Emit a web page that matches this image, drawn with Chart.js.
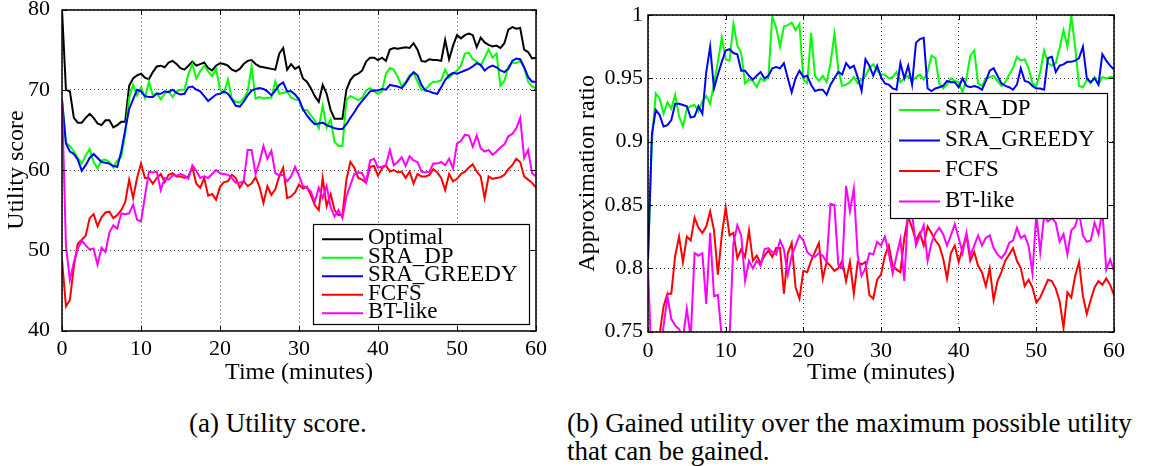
<!DOCTYPE html>
<html>
<head>
<meta charset="utf-8">
<script src="https://cdn.jsdelivr.net/npm/chart.js@4.4.1/dist/chart.umd.min.js"></script>
<style>
  body { margin: 0; background: #fff; width: 1150px; height: 466px; position: relative; overflow: hidden; }
  canvas { position: absolute; top: 0; }
  #utilChart { left: 0; }
  #ratioChart { left: 575px; }
  .caption { position: absolute; font-family: "Liberation Serif", serif; font-size: 27px; line-height: 28px; color: #000; white-space: nowrap; }
  #capA { left: 189px; top: 409px; }
  #capB { left: 567px; top: 409px; }
</style>
</head>
<body>
<canvas id="utilChart" width="560" height="395"></canvas>
<canvas id="ratioChart" width="575" height="395"></canvas>
<div class="caption" id="capA">(a) Utility score.</div>
<div class="caption" id="capB">(b) Gained utility over the maximum possible utility<br>that can be gained.</div>
<script>
// sample instants: one every 30 s over the hour
var minutes = [];
for (var i = 0; i <= 120; i++) minutes.push(i / 2);

// ---- utility score ----
var utilOptimal = [
  80, 70, 69.8, 66.5, 65.9, 65.9, 66.5, 67.0, 66.5, 65.8,
  65.6, 66.2, 66.2, 65.3, 65.6, 66.0, 66.0, 70.5, 71.4, 71.8,
  72.0, 71.5, 71.3, 72.2, 72.9, 73.0, 72.8, 73.4, 73.6, 73.2,
  72.7, 72.5, 73.0, 73.5, 73.0, 73.2, 73.4, 72.7, 72.4, 73.0,
  73.3, 73.2, 73.0, 72.5, 72.3, 72.6, 73.2, 73.6, 73.7, 73.2,
  72.9, 72.8, 72.7, 72.6, 72.5, 74.5, 75.2, 72.5, 73.2, 72.6,
  72.9, 71.4, 71.0, 70.2, 69.2, 68.5, 70.6, 69.5, 67.5, 66.4,
  66.4, 66.4, 70.0, 71.2, 71.8, 72.0, 72.4, 73.5, 74.0, 74.0,
  73.7, 74.0, 73.6, 75.0, 75.2, 75.1, 75.2, 75.3, 75.2, 75.8,
  75.0, 73.6, 73.5, 73.8, 73.7, 73.7, 73.6, 76.2, 73.8, 75.5,
  76.8, 76.4, 76.8, 77.0, 76.8, 75.3, 76.5, 75.9, 75.6, 75.4,
  75.5, 75.2, 75.8, 77.5, 77.8, 77.6, 77.7, 75.0, 74.7, 73.9,
  74.0
];
var utilSraDp = [
  68.8, 63.4, 63.0, 62.3, 61.5, 60.8, 61.8, 62.6, 61.0, 60.2,
  61.2, 61.3, 61.0, 60.3, 61.2, 61.6, 64.5, 69.0, 70.6, 69.3,
  70.3, 69.0, 71.0, 69.3, 69.6, 68.8, 69.5, 69.8, 69.1, 69.8,
  70.0, 70.0, 72.0, 73.2, 71.4, 72.3, 73.0, 72.3, 71.7, 72.6,
  70.0, 69.6, 71.3, 68.9, 68.5, 68.4, 68.9, 69.8, 72.9, 68.9,
  69.1, 68.9, 69.0, 69.0, 71.0, 69.5, 69.6, 69.8, 69.0, 68.8,
  68.7, 67.4, 67.5, 66.8, 66.2, 65.2, 68.0, 65.3, 66.3, 63.5,
  63.0, 63.0, 68.7, 69.2, 69.0, 68.7, 69.0, 69.9, 70.2, 69.8,
  69.5, 69.8, 72.0, 72.7, 72.5, 71.6, 70.4, 71.0, 71.8, 72.1,
  71.0, 70.0, 70.0, 70.6, 71.0, 71.0, 71.2, 72.5, 71.5, 72.0,
  72.4, 73.0, 74.5, 74.6, 73.8, 73.5, 73.0, 74.0, 75.0, 74.0,
  74.5, 70.5, 71.1, 72.9, 73.4, 73.3, 73.6, 72.8, 71.0, 70.4,
  70.2
];
var utilSraGreedy = [
  68.7, 63.3, 62.3, 62.0, 61.3, 59.9, 60.6, 61.5, 62.0, 61.5,
  61.0, 60.9, 60.8, 60.5, 60.4, 62.3, 65.0, 67.6, 68.8, 70.0,
  69.8, 69.2, 69.1, 69.1, 69.5, 69.5, 69.8, 69.7, 70.0, 69.6,
  69.4, 69.5, 70.3, 70.4, 70.0, 69.8, 69.2, 68.6, 69.0, 69.4,
  69.5, 69.8, 69.5, 68.8, 68.0, 67.9, 68.5, 69.3, 69.9, 70.1,
  70.2, 70.1, 69.8, 69.3, 69.9, 70.6, 70.9, 69.8, 69.8, 69.4,
  68.8, 67.6, 66.8, 66.2, 65.7, 65.8, 65.9, 65.6, 65.4, 65.2,
  65.1, 65.1, 65.7, 66.5, 67.2, 68.0, 68.6, 69.2, 69.8, 69.9,
  69.9, 70.1, 70.0, 70.6, 70.5, 70.4, 70.2, 70.8, 71.6, 72.2,
  71.8, 70.6, 69.9, 69.8, 69.6, 69.5, 70.3, 71.2, 71.8, 72.1,
  72.0, 72.2, 72.4, 72.6, 72.9, 73.3, 73.1, 72.4, 72.8, 73.0,
  72.8, 72.4, 72.2, 72.6, 73.6, 73.9, 73.8, 72.8, 71.6, 71.0,
  71.0
];
var utilFcfs = [
  48.8, 43.0, 43.8, 48.0, 50.8, 51.3, 51.8, 54.0, 54.5, 53.0,
  54.1, 54.7, 54.8, 54.0, 54.4, 55.0, 56.0, 58.8, 56.5, 59.0,
  60.8, 59.0, 59.0, 58.3, 59.0, 59.5, 58.5, 59.4, 59.6, 59.2,
  59.2, 59.0, 59.2, 60.3, 58.3, 57.8, 59.0, 56.8, 57.0, 56.3,
  57.9, 58.5, 58.6, 59.4, 59.0, 57.8, 58.6, 58.0, 58.3, 59.1,
  57.9, 55.9, 58.0, 56.9, 57.6, 59.2, 60.3, 56.5, 56.7, 57.2,
  58.2, 57.7, 57.9, 56.9, 55.6, 55.0, 59.0, 55.5, 57.0, 55.0,
  54.4, 54.4, 58.8, 61.0, 60.3, 59.0, 58.8, 58.4, 60.4, 60.5,
  59.3, 60.2, 60.6, 59.8, 60.0, 59.7, 59.8, 59.0, 59.8, 58.3,
  59.5, 59.2, 59.2, 59.4, 60.1, 59.7, 59.0, 57.5, 59.5, 58.6,
  58.9, 59.5, 59.8, 60.3, 60.7, 59.8, 59.2, 56.5, 59.2, 58.9,
  59.0, 59.1, 59.4, 60.1, 60.6, 61.4, 61.0, 59.2, 58.8, 58.4,
  57.8
];
var utilBtLike = [
  68.8, 50.5, 46.3, 48.5, 50.2, 51.2, 50.6, 50.1, 50.2, 48.2,
  50.3, 49.8, 52.2, 53.1, 52.7, 54.6, 54.5, 54.6, 55.7, 53.8,
  53.6, 56.7, 59.8, 59.7, 59.8, 57.5, 59.0, 58.8, 59.3, 59.3,
  59.5, 59.3, 58.9, 60.6, 59.9, 59.0, 59.2, 59.0, 59.5, 60.0,
  59.6, 59.5, 59.4, 59.0, 58.4, 58.4, 58.6, 62.5, 62.5, 59.5,
  61.0, 63.0, 61.4, 62.4, 59.6, 59.3, 59.4, 58.6, 59.2, 60.4,
  59.3, 58.0, 57.8, 57.3, 56.0, 57.8, 56.5, 58.0, 55.4, 54.2,
  55.0, 54.0, 56.7, 58.1, 59.5, 59.7, 59.6, 58.5, 61.2, 61.4,
  60.3, 60.4, 60.6, 62.5, 60.6, 61.0, 61.6, 60.5, 61.7, 61.2,
  61.0, 59.8, 59.7, 59.8, 60.8, 60.8, 61.0, 60.6, 61.4, 60.2,
  63.3, 63.6, 64.4, 64.3, 62.9, 64.3, 62.7, 62.3, 62.5, 61.9,
  62.3, 62.8, 63.2, 64.2, 64.5, 65.2, 66.5, 61.5, 62.5, 59.6,
  59.2
];

// ---- approximation ratio ----
var ratioSraDp = [
  0.807, 0.900, 0.938, 0.934, 0.922, 0.931, 0.926, 0.937, 0.920, 0.912,
  0.926, 0.928, 0.929, 0.924, 0.932, 0.936, 0.930, 0.946, 0.963, 0.982,
  0.965, 0.964, 0.993, 0.976, 0.970, 0.946, 0.949, 0.948, 0.943, 0.950,
  0.948, 0.951, 0.999, 0.990, 0.975, 0.991, 0.992, 0.994, 0.988, 0.993,
  0.949, 0.946, 0.986, 0.952, 0.948, 0.952, 0.947, 0.962, 0.985, 0.957,
  0.944, 0.945, 0.947, 0.951, 0.946, 0.949, 0.952, 0.958, 0.961, 0.956,
  0.953, 0.953, 0.950, 0.951, 0.955, 0.947, 0.950, 0.952, 0.948, 0.951,
  0.953, 0.949, 0.955, 0.968, 0.966, 0.946, 0.942, 0.945, 0.950, 0.948,
  0.947, 0.939, 0.950, 0.968, 0.972, 0.946, 0.944, 0.950, 0.951, 0.952,
  0.948, 0.944, 0.947, 0.953, 0.958, 0.967, 0.964, 0.965, 0.958, 0.946,
  0.944, 0.955, 0.972, 0.962, 0.960, 0.962, 0.974, 0.988, 0.975, 0.999,
  0.975, 0.944, 0.943, 0.949, 0.946, 0.951, 0.945, 0.951, 0.950, 0.951,
  0.951
];
var ratioSraGreedy = [
  0.807, 0.906, 0.925, 0.921, 0.912, 0.913, 0.917, 0.930, 0.930, 0.929,
  0.928, 0.919, 0.920, 0.928, 0.922, 0.955, 0.975, 0.942, 0.953, 0.963,
  0.972, 0.973, 0.970, 0.969, 0.956, 0.956, 0.952, 0.949, 0.952, 0.955,
  0.950, 0.952, 0.958, 0.959, 0.958, 0.962, 0.950, 0.939, 0.950, 0.956,
  0.951, 0.952, 0.945, 0.940, 0.941, 0.941, 0.937, 0.945, 0.950, 0.955,
  0.953, 0.962, 0.958, 0.960, 0.951, 0.940, 0.965, 0.960, 0.952, 0.960,
  0.951, 0.946, 0.945, 0.942, 0.941, 0.962, 0.950, 0.960, 0.945, 0.978,
  0.981, 0.982, 0.942, 0.940, 0.942, 0.943, 0.944, 0.948, 0.947, 0.947,
  0.943, 0.950, 0.944, 0.943, 0.944, 0.943, 0.941, 0.948, 0.956, 0.958,
  0.952, 0.946, 0.944, 0.943, 0.941, 0.945, 0.958, 0.948, 0.947, 0.944,
  0.942, 0.942, 0.941, 0.966, 0.967, 0.955, 0.960, 0.961, 0.963, 0.963,
  0.964, 0.966, 0.975, 0.950, 0.947, 0.950, 0.945, 0.969, 0.964, 0.960,
  0.957
];
var ratioFcfs = [
  0.700, 0.710, 0.730, 0.748, 0.770, 0.780, 0.780, 0.810, 0.825, 0.805,
  0.825, 0.822, 0.840, 0.832, 0.828, 0.833, 0.845, 0.830, 0.795, 0.826,
  0.848, 0.826, 0.828, 0.808, 0.815, 0.809, 0.830, 0.806, 0.810, 0.804,
  0.810, 0.814, 0.809, 0.816, 0.816, 0.780, 0.812, 0.820, 0.785, 0.776,
  0.798, 0.797, 0.806, 0.813, 0.820, 0.792, 0.805, 0.802, 0.798, 0.800,
  0.806, 0.790, 0.805, 0.780, 0.805, 0.803, 0.805, 0.779, 0.776, 0.791,
  0.795, 0.810, 0.818, 0.802, 0.799, 0.797, 0.824, 0.841, 0.832, 0.822,
  0.828, 0.818, 0.833, 0.828, 0.822, 0.818, 0.808, 0.792, 0.812, 0.818,
  0.805, 0.816, 0.826, 0.806, 0.813, 0.802, 0.797, 0.786, 0.800, 0.775,
  0.790, 0.797, 0.806, 0.811, 0.816, 0.806, 0.800, 0.786, 0.791, 0.785,
  0.773, 0.777, 0.784, 0.791, 0.790, 0.784, 0.774, 0.753, 0.781, 0.777,
  0.794, 0.805, 0.778, 0.764, 0.775, 0.785, 0.790, 0.787, 0.792, 0.787,
  0.779
];
var ratioBtLike = [
  0.800, 0.720, 0.700, 0.730, 0.754, 0.778, 0.760, 0.755, 0.752, 0.745,
  0.768, 0.745, 0.812, 0.810, 0.812, 0.772, 0.828, 0.778, 0.779, 0.745,
  0.730, 0.745, 0.820, 0.834, 0.826, 0.790, 0.806, 0.800, 0.806, 0.802,
  0.815, 0.816, 0.813, 0.811, 0.822, 0.815, 0.795, 0.810, 0.818, 0.826,
  0.822, 0.813, 0.810, 0.809, 0.812, 0.810, 0.805, 0.851, 0.850, 0.803,
  0.800, 0.865, 0.845, 0.863, 0.810, 0.794, 0.800, 0.812, 0.811, 0.821,
  0.818, 0.825, 0.812, 0.796, 0.810, 0.823, 0.790, 0.847, 0.843, 0.818,
  0.826, 0.834, 0.806, 0.820, 0.828, 0.832, 0.827, 0.818, 0.826, 0.835,
  0.824, 0.812, 0.828, 0.810, 0.818, 0.826, 0.818, 0.824, 0.826, 0.816,
  0.811, 0.808, 0.812, 0.820, 0.822, 0.832, 0.824, 0.826, 0.818, 0.796,
  0.843, 0.813, 0.841, 0.837, 0.840, 0.836, 0.821, 0.827, 0.811, 0.830,
  0.833, 0.844, 0.826, 0.821, 0.822, 0.836, 0.827, 0.846, 0.799, 0.807,
  0.798
];

var xTicks = [0, 10, 20, 30, 40, 50, 60];
var yTicksUtil = [40, 50, 60, 70, 80];
var yTicksRatio = [0.75, 0.8, 0.85, 0.9, 0.95, 1];

var lineColors = {
  'Optimal': '#000000',
  'SRA_DP': '#00ff00',
  'SRA_GREEDY': '#0000ff',
  'FCFS': '#ff0000',
  'BT-like': '#ff00ff'
};

Chart.defaults.font.family = '"Liberation Serif", serif';
Chart.defaults.color = '#000';

var tickFont = { size: 22 };
var titleFont = { size: 24, lineHeight: 1 };
var legendFont = '23px "Liberation Serif", serif';

// build one line per series, later series drawn on top (matlab order)
function makeLines(names, seriesList) {
    var out = [];
    for (var k = 0; k < names.length; k++) {
        var vals = seriesList[k];
        out.push({
            label: names[k],
            data: vals.map(function (v, i) { return { x: minutes[i], y: v }; }),
            borderColor: lineColors[names[k]],
            backgroundColor: lineColors[names[k]],
            borderWidth: 2,
            pointRadius: 0,
            tension: 0,
            fill: false,
            order: names.length - k
        });
    }
    return out;
}

// axes box, inward tick marks and the boxed legend
var framePlugin = {
    id: 'frame',
    afterDatasetsDraw: function (chart, args, opts) {
        var ctx = chart.ctx;
        var a = chart.chartArea;
        var sx = chart.scales.x, sy = chart.scales.y;
        var L = Math.round(a.left), R = Math.round(a.right);
        var T = Math.round(a.top), B = Math.round(a.bottom);
        ctx.save();
        ctx.setLineDash([]);
        ctx.strokeStyle = '#000';
        ctx.lineWidth = 1.5;
        ctx.strokeRect(L, T, R - L, B - T);
        ctx.lineWidth = 1;
        ctx.beginPath();
        sx.ticks.forEach(function (t) {
            var px = Math.round(sx.getPixelForValue(t.value)) + 0.5;
            ctx.moveTo(px, B); ctx.lineTo(px, B - 5);
            ctx.moveTo(px, T); ctx.lineTo(px, T + 5);
        });
        sy.ticks.forEach(function (t) {
            var py = Math.round(sy.getPixelForValue(t.value)) + 0.5;
            ctx.moveTo(L, py); ctx.lineTo(L + 5, py);
            ctx.moveTo(R, py); ctx.lineTo(R - 5, py);
        });
        ctx.stroke();

        var lg = opts.legend;
        ctx.fillStyle = '#fff';
        ctx.fillRect(lg.x, lg.y, lg.w, lg.h);
        ctx.strokeStyle = '#000';
        ctx.lineWidth = 1.2;
        ctx.strokeRect(lg.x + 0.5, lg.y + 0.5, lg.w, lg.h);
        ctx.font = legendFont;
        ctx.textBaseline = 'middle';
        ctx.textAlign = 'left';
        chart.data.datasets.forEach(function (ds, i) {
            var yy = lg.firstRow + i * lg.rowStep;
            ctx.strokeStyle = ds.borderColor;
            ctx.lineWidth = 2;
            ctx.beginPath();
            ctx.moveTo(lg.lineFrom, yy);
            ctx.lineTo(lg.lineTo, yy);
            ctx.stroke();
            ctx.fillStyle = '#000';
            ctx.fillText(ds.label, lg.textX, yy - 1);
        });
        ctx.restore();
    }
};

function makeScales(cfg) {
    return {
        x: {
            type: 'linear', min: 0, max: 60,
            afterBuildTicks: function (s) { s.ticks = xTicks.map(function (v) { return { value: v }; }); },
            afterFit: function (s) { s.height = cfg.xHeight; s.paddingLeft = 0; s.paddingRight = 0; },
            grid: { color: '#444', lineWidth: 1, drawTicks: false },
            border: { display: false, dash: [1, 3] },
            ticks: { font: tickFont, padding: 6, maxRotation: 0, autoSkip: false, color: '#000' },
            title: { display: true, text: 'Time (minutes)', font: titleFont, color: '#000', padding: { top: 0, bottom: 10 } }
        },
        y: {
            type: 'linear', min: cfg.yMin, max: cfg.yMax,
            afterBuildTicks: function (s) { s.ticks = cfg.yTicks.map(function (v) { return { value: v }; }); },
            afterFit: function (s) { s.width = cfg.yWidth; s.paddingTop = 0; s.paddingBottom = 0; },
            grid: { color: '#444', lineWidth: 1, drawTicks: false },
            border: { display: false, dash: [1, 3] },
            ticks: {
                font: tickFont, padding: cfg.yTickPad, color: '#000', autoSkip: false,
                callback: function (v) { return String(+Number(v).toFixed(2)); }
            },
            title: { display: true, text: cfg.yTitle, font: titleFont, color: '#000', padding: { top: cfg.yTitlePad, bottom: 0 } }
        }
    };
}

var utilChart = new Chart(document.getElementById('utilChart'), {
    type: 'line',
    data: {
        datasets: makeLines(['Optimal', 'SRA_DP', 'SRA_GREEDY', 'FCFS', 'BT-like'],
            [utilOptimal, utilSraDp, utilSraGreedy, utilFcfs, utilBtLike])
    },
    options: {
        responsive: false,
        animation: false,
        events: [],
        layout: { padding: { left: 0, right: 24, top: 9.5, bottom: 0 } },
        scales: makeScales({ yMin: 40, yMax: 80, yTicks: yTicksUtil, yTitle: 'Utility score', yWidth: 62, xHeight: 64.5, yTickPad: 12, yTitlePad: 4.5 }),
        plugins: {
            legend: { display: false },
            tooltip: { enabled: false },
            frame: { legend: { x: 313, y: 224, w: 216, h: 100, lineFrom: 322, lineTo: 363, textX: 368, firstRow: 239.3, rowStep: 18.5 } }
        }
    },
    plugins: [framePlugin]
});

var ratioChart = new Chart(document.getElementById('ratioChart'), {
    type: 'line',
    data: {
        datasets: makeLines(['SRA_DP', 'SRA_GREEDY', 'FCFS', 'BT-like'],
            [ratioSraDp, ratioSraGreedy, ratioFcfs, ratioBtLike])
    },
    options: {
        responsive: false,
        animation: false,
        events: [],
        layout: { padding: { left: 0, right: 36, top: 15, bottom: 0 } },
        scales: makeScales({ yMin: 0.75, yMax: 1, yTicks: yTicksRatio, yTitle: 'Approximation ratio', yWidth: 73, xHeight: 63.3, yTickPad: 5, yTitlePad: 0.5 }),
        plugins: {
            legend: { display: false },
            tooltip: { enabled: false },
            frame: { legend: { x: 315, y: 93, w: 217, h: 125, lineFrom: 324, lineTo: 365, textX: 370, firstRow: 110, rowStep: 30.5 } }
        }
    },
    plugins: [framePlugin]
});
</script>
</body>
</html>
